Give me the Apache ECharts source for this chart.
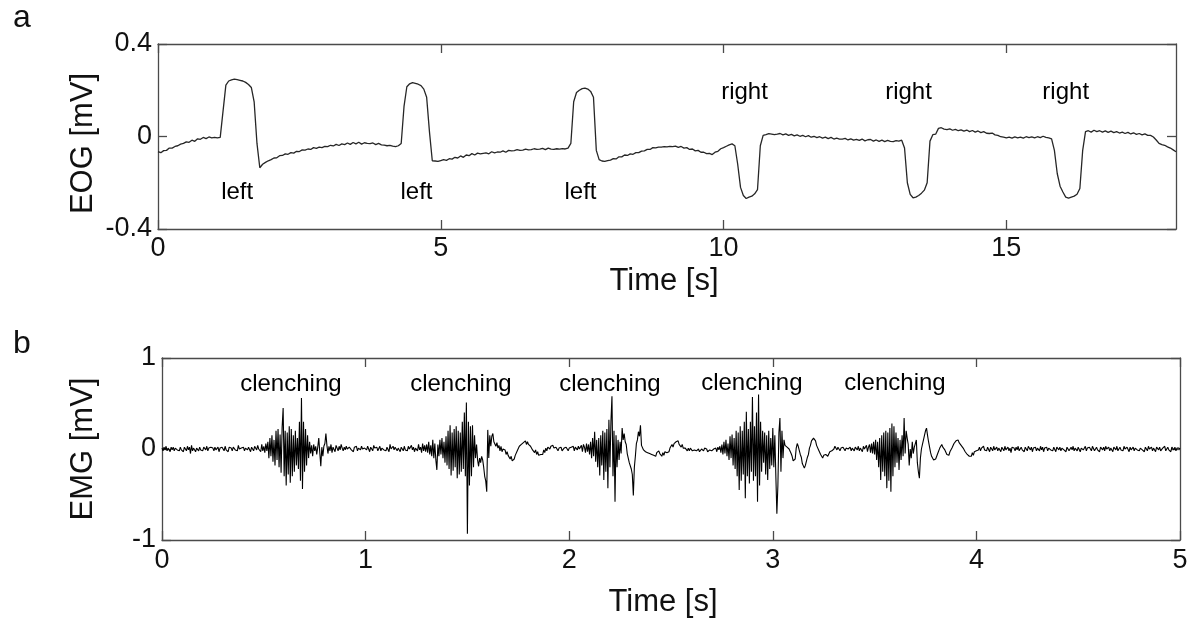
<!DOCTYPE html>
<html><head><meta charset="utf-8">
<script src="https://cdn.jsdelivr.net/npm/echarts@6/dist/echarts.min.js"></script>
<style>html,body{margin:0;padding:0;background:#fff}#c{width:1197px;height:623px}</style>
</head><body><div id="c"></div>
<script>
// ---------- DATA ----------
// EOG (panel a): one sample every 0.05 s from 0 to 18 s, values in mV
const eogStep = 0.05;
const eogValues = [
-0.065,-0.070,-0.061,-0.060,-0.050,-0.050,-0.043,-0.040,-0.033,-0.030,-0.023,-0.025,-0.016,-0.021,-0.010,-0.012,-0.004,-0.009,-0.002,-0.006,
-0.004,-0.006,-0.004,0.110,0.222,0.240,0.245,0.248,0.246,0.243,0.240,0.234,0.225,0.212,0.150,-0.030,-0.135,-0.120,-0.112,-0.105,
-0.100,-0.093,-0.092,-0.083,-0.082,-0.075,-0.077,-0.070,-0.072,-0.064,-0.065,-0.058,-0.059,-0.054,-0.056,-0.048,-0.051,-0.046,-0.048,-0.043,
-0.044,-0.038,-0.041,-0.034,-0.039,-0.032,-0.035,-0.028,-0.034,-0.026,-0.032,-0.025,-0.033,-0.027,-0.030,-0.031,-0.028,-0.035,-0.030,-0.036,
-0.037,-0.040,-0.038,-0.042,-0.044,-0.040,-0.030,0.130,0.215,0.228,0.233,0.230,0.226,0.220,0.205,0.170,0.020,-0.105,-0.106,-0.108,
-0.104,-0.100,-0.103,-0.096,-0.098,-0.090,-0.093,-0.084,-0.090,-0.080,-0.083,-0.074,-0.080,-0.072,-0.075,-0.073,-0.071,-0.075,-0.066,-0.071,
-0.067,-0.068,-0.062,-0.068,-0.060,-0.062,-0.061,-0.057,-0.060,-0.059,-0.055,-0.058,-0.057,-0.053,-0.056,-0.055,-0.051,-0.057,-0.050,-0.055,
-0.056,-0.053,-0.055,-0.052,-0.054,-0.050,-0.030,0.150,0.190,0.200,0.207,0.209,0.205,0.195,0.170,-0.060,-0.100,-0.106,-0.108,-0.104,
-0.102,-0.096,-0.097,-0.088,-0.088,-0.080,-0.082,-0.075,-0.077,-0.070,-0.070,-0.063,-0.062,-0.056,-0.056,-0.048,-0.049,-0.046,-0.046,-0.044,
-0.045,-0.043,-0.044,-0.042,-0.047,-0.043,-0.050,-0.048,-0.056,-0.054,-0.062,-0.060,-0.068,-0.068,-0.074,-0.073,-0.078,-0.068,-0.064,-0.053,
-0.048,-0.042,-0.036,-0.032,-0.040,-0.120,-0.220,-0.255,-0.268,-0.262,-0.258,-0.248,-0.230,-0.040,0.005,0.008,0.012,0.010,0.008,0.010,
0.013,0.007,0.011,0.005,0.009,0.003,0.007,0.001,0.005,-0.001,0.004,-0.003,0.001,-0.005,-0.001,-0.007,-0.003,-0.009,-0.004,-0.011,
-0.007,-0.011,-0.011,-0.008,-0.015,-0.010,-0.016,-0.012,-0.017,-0.011,-0.019,-0.014,-0.013,-0.020,-0.015,-0.021,-0.016,-0.022,-0.017,-0.021,
-0.022,-0.018,-0.020,-0.016,-0.050,-0.200,-0.250,-0.265,-0.262,-0.255,-0.245,-0.232,-0.200,-0.020,0.008,0.010,0.035,0.038,0.032,0.030,
0.033,0.027,0.031,0.025,0.029,0.023,0.028,0.021,0.026,0.019,0.024,0.017,0.021,0.014,0.013,0.015,0.007,0.005,-0.001,-0.003,
-0.006,-0.003,-0.007,-0.002,-0.006,-0.003,-0.007,-0.001,-0.005,-0.002,-0.006,-0.001,-0.005,0.001,-0.004,-0.006,-0.010,-0.060,-0.160,-0.215,
-0.240,-0.262,-0.266,-0.262,-0.258,-0.250,-0.225,-0.060,0.021,0.025,0.019,0.027,0.021,0.025,0.019,0.024,0.018,0.023,0.017,0.021,
0.015,0.019,0.013,0.018,0.011,0.016,0.009,0.013,0.007,0.011,0.005,0.005,-0.002,-0.015,-0.030,-0.035,-0.038,-0.045,-0.050,-0.058,
-0.066
];

// EMG (panel b): one sample every 0.005 s from 0 to 5 s, values in mV
const emgStep = 0.005;
const emgValues = [
0.01,-0.02,0.02,-0.01,0.03,-0.02,0.01,0.00,-0.03,0.02,-0.01,0.02,-0.02,0.01,0.03,-0.01,0.00,-0.02,0.02,-0.01,
0.01,-0.03,0.02,0.00,-0.02,0.03,-0.01,0.02,-0.05,0.04,-0.02,0.01,0.02,-0.03,0.01,0.00,-0.02,0.02,-0.01,0.01,
-0.02,0.02,0.00,-0.01,0.03,-0.02,0.01,-0.01,0.02,0.04,0.01,-0.02,0.02,-0.01,0.00,0.02,-0.03,0.01,-0.01,0.02,
0.00,-0.02,0.03,-0.01,0.01,-0.03,0.02,0.00,0.01,-0.02,0.02,0.03,-0.01,0.01,-0.02,0.04,0.00,-0.02,0.01,-0.01,
0.02,-0.02,0.01,0.03,-0.01,0.02,0.00,-0.03,0.02,0.01,-0.02,0.03,0.01,-0.01,0.04,0.00,0.02,-0.03,0.05,-0.02,
0.03,-0.04,0.06,-0.02,0.08,-0.10,0.12,-0.08,0.15,-0.14,0.10,-0.18,0.20,-0.12,0.22,-0.20,0.16,-0.26,0.24,0.45,
-0.30,0.20,-0.40,0.18,-0.28,0.25,-0.37,0.22,-0.30,0.15,-0.25,0.20,-0.18,0.12,-0.22,0.30,-0.35,0.56,-0.44,0.30,
-0.25,0.22,-0.18,0.15,-0.10,0.08,-0.05,0.04,-0.08,0.05,-0.02,0.03,-0.06,0.02,0.12,-0.04,-0.19,0.02,-0.08,0.03,
0.06,0.17,0.04,-0.05,0.03,-0.02,0.05,-0.04,0.02,0.00,-0.03,0.04,0.02,-0.02,0.03,-0.01,0.05,0.01,-0.02,0.02,
-0.01,0.03,0.00,-0.02,0.02,0.04,-0.01,0.01,-0.03,0.02,0.00,0.03,-0.02,0.01,0.02,-0.01,0.03,0.00,-0.02,0.01,
0.02,-0.01,0.03,0.00,-0.03,0.02,0.01,-0.02,0.04,0.01,-0.01,0.02,-0.02,0.00,0.03,-0.02,0.01,0.02,-0.01,0.00,
-0.02,0.02,0.01,-0.03,0.05,0.00,-0.02,0.03,-0.01,0.02,0.04,-0.02,0.01,0.00,-0.03,0.02,0.01,-0.02,0.03,-0.01,
0.01,-0.02,0.03,0.00,-0.02,0.04,-0.01,0.02,-0.03,0.01,0.03,-0.02,0.05,-0.01,0.02,-0.04,0.06,-0.02,0.04,-0.03,
0.05,-0.04,0.08,-0.06,0.04,-0.08,0.10,-0.10,0.06,-0.12,-0.23,0.05,-0.08,0.10,-0.06,0.12,-0.10,0.08,-0.15,0.14,
-0.18,0.20,-0.22,0.26,-0.29,0.18,-0.24,0.22,-0.20,0.25,-0.32,0.20,-0.28,0.18,-0.25,0.30,-0.22,0.40,-0.30,0.51,
-0.93,0.30,-0.40,0.25,-0.30,0.26,-0.20,0.15,-0.10,0.05,-0.12,-0.19,-0.10,-0.15,-0.08,-0.12,-0.20,-0.30,-0.35,-0.47,
0.21,-0.10,0.15,0.03,0.14,0.17,0.08,0.10,0.03,0.07,0.01,0.04,-0.02,0.03,-0.03,0.00,-0.02,-0.01,-0.06,-0.03,
-0.07,-0.06,-0.11,-0.08,-0.13,-0.12,-0.11,-0.07,-0.07,-0.02,-0.04,0.03,0.02,0.05,0.03,0.07,0.05,0.09,0.05,0.08,
0.05,0.06,0.03,0.04,-0.01,0.01,-0.04,-0.01,-0.06,-0.03,-0.07,-0.05,-0.06,-0.04,-0.06,-0.01,-0.04,0.01,-0.02,0.02,
0.02,0.00,0.03,0.02,0.04,0.01,0.03,0.02,0.00,-0.02,0.01,-0.01,0.02,-0.02,0.00,0.01,-0.01,0.02,0.00,-0.02,
0.01,-0.01,0.02,0.00,0.03,-0.02,0.02,0.04,-0.01,0.03,0.00,-0.02,0.04,-0.03,0.05,0.02,-0.04,0.06,-0.03,0.05,
-0.06,0.08,-0.10,0.12,-0.08,0.19,-0.14,0.10,-0.20,0.12,-0.29,0.15,-0.18,0.20,-0.34,0.18,-0.25,0.22,-0.43,0.32,
-0.20,0.30,0.58,-0.30,0.20,-0.58,0.15,-0.20,0.10,-0.12,0.08,-0.05,0.23,0.10,0.17,0.08,0.05,-0.05,-0.10,-0.15,
-0.15,-0.22,-0.28,-0.51,-0.20,-0.08,0.06,0.10,0.19,0.14,0.26,0.04,0.03,-0.01,0.00,-0.03,-0.01,-0.04,-0.02,-0.05,
-0.04,-0.06,-0.04,-0.07,-0.05,-0.08,-0.04,-0.06,-0.02,-0.05,-0.05,-0.08,-0.04,-0.07,-0.03,-0.05,-0.04,-0.02,-0.03,0.01,
0.01,0.05,0.02,0.06,0.06,0.08,0.07,0.09,0.05,0.06,0.02,0.05,0.01,0.03,0.01,0.02,-0.02,0.01,-0.02,0.01,
-0.01,-0.02,0.00,-0.01,0.01,-0.02,-0.01,0.00,-0.03,-0.02,0.00,-0.01,-0.02,0.01,-0.01,0.00,-0.03,-0.02,-0.01,0.00,
-0.02,-0.03,0.00,-0.02,0.01,-0.03,0.02,-0.01,0.03,-0.04,0.05,-0.06,0.08,-0.05,0.10,-0.08,0.06,-0.12,0.14,-0.10,
0.16,-0.18,0.12,-0.22,0.20,-0.30,0.18,-0.45,0.25,-0.35,0.20,-0.28,0.30,-0.54,0.41,-0.30,0.22,-0.38,0.30,-0.25,
0.57,-0.35,0.25,-0.30,0.40,-0.58,0.60,-0.40,0.30,-0.25,0.20,-0.15,0.18,-0.28,0.15,-0.34,0.20,-0.22,0.12,-0.18,
0.23,-0.20,0.15,-0.30,-0.71,-0.40,0.18,0.34,-0.25,0.20,-0.10,0.10,0.04,0.06,0.02,0.04,0.00,-0.02,-0.05,-0.08,
-0.13,-0.12,-0.11,0.01,0.06,0.03,0.01,-0.06,-0.09,-0.16,-0.17,-0.21,-0.18,-0.16,-0.09,-0.06,0.01,0.04,0.09,0.09,
0.12,0.10,0.09,0.04,0.03,-0.01,-0.02,-0.06,-0.06,-0.10,-0.07,-0.07,-0.06,-0.06,-0.08,-0.07,-0.03,-0.03,-0.02,-0.02,
0.00,0.03,0.01,-0.01,0.02,0.00,-0.02,0.01,-0.01,0.02,0.00,-0.02,0.01,0.03,0.00,-0.01,0.02,-0.02,0.01,0.00,
-0.02,0.02,0.01,-0.01,0.03,-0.02,0.01,0.02,-0.03,0.03,0.00,-0.02,0.04,-0.03,0.02,0.05,-0.04,0.06,-0.05,0.08,
-0.06,0.10,-0.12,0.08,-0.20,0.12,-0.34,0.15,-0.25,0.18,-0.30,0.20,-0.43,0.18,-0.35,0.23,-0.47,0.28,-0.30,0.25,
-0.20,0.18,-0.15,0.12,-0.23,0.10,-0.12,0.15,-0.08,0.34,-0.05,0.20,0.12,0.05,-0.18,0.00,-0.10,0.08,-0.05,0.02,
0.06,0.10,-0.15,-0.25,-0.32,-0.10,0.00,0.05,0.10,0.15,0.20,0.23,0.15,0.08,0.02,-0.04,-0.08,-0.10,-0.12,-0.11,
-0.11,-0.11,-0.05,-0.03,0.01,0.01,0.05,0.02,0.03,-0.01,-0.02,-0.06,-0.06,-0.07,-0.03,-0.03,0.01,0.02,0.06,0.06,
0.09,0.09,0.10,0.07,0.08,0.04,0.04,0.01,0.01,-0.03,-0.03,-0.06,-0.05,-0.08,-0.07,-0.08,-0.04,-0.07,-0.03,-0.04,
-0.02,0.00,-0.01,0.02,-0.02,0.01,0.00,0.03,-0.01,0.01,-0.02,0.02,0.00,-0.03,0.02,0.01,-0.02,0.03,-0.01,0.00,
0.02,-0.02,0.01,0.00,-0.03,0.02,0.01,-0.02,0.03,-0.01,0.00,0.02,-0.02,0.01,-0.04,0.02,0.00,0.01,-0.02,0.02,
-0.01,0.03,-0.02,0.00,0.02,-0.01,0.01,-0.03,0.02,0.00,-0.02,0.03,0.01,-0.01,0.02,-0.03,0.01,0.00,0.02,-0.02,
0.01,0.00,-0.02,0.03,-0.01,0.02,-0.03,0.01,0.00,0.02,-0.02,0.01,0.03,-0.01,0.00,-0.02,0.02,0.01,-0.03,0.02,
0.00,-0.01,0.02,-0.02,0.01,0.03,-0.01,0.00,-0.03,0.02,0.01,-0.02,0.00,0.02,-0.01,0.03,-0.02,0.01,0.00,-0.02,
0.02,0.00,-0.03,0.01,0.02,-0.01,0.00,0.03,-0.02,0.01,-0.01,0.02,0.00,-0.02,0.03,0.01,-0.02,0.00,0.02,-0.01,
0.01,-0.03,0.02,0.00,-0.01,0.02,-0.02,0.03,0.00,-0.01,0.02,-0.02,0.01,0.00,-0.03,0.02,0.01,-0.01,0.03,-0.02,
0.00,0.02,-0.01,0.01,-0.02,0.03,0.00,-0.02,0.02,0.01,-0.03,0.02,-0.01,0.00,0.02,-0.02,0.01,0.03,-0.01,0.00,
-0.02,0.01,0.02,-0.01,0.00,-0.03,0.02,0.01,-0.02,0.03,0.00,-0.01,0.02,-0.02,0.01,0.00,-0.03,0.02,0.01,-0.01,
0.02,-0.02,0.00,0.01,-0.01,0.03,-0.02,0.00,0.02,-0.01,0.01,-0.03,0.02,0.00,-0.01,0.02,-0.02,0.01,0.00,0.01,
0.00
];

// Tick values
const eogXTicks = [0, 5, 10, 15];
const eogYTicks = [-0.4, 0, 0.4];
const emgXTicks = [0, 1, 2, 3, 4, 5];
const emgYTicks = [-1, 0, 1];

// Annotations: [time, value, text]
const eogNotes = [[1.40,-0.24,'left'],[4.57,-0.24,'left'],[7.47,-0.24,'left'],
                  [10.37,0.19,'right'],[13.27,0.19,'right'],[16.05,0.19,'right']];
const emgNotes = [[0.633,0.71,'clenching'],[1.468,0.71,'clenching'],[2.20,0.71,'clenching'],
                  [2.897,0.725,'clenching'],[3.60,0.725,'clenching']];

// ---------- CHART ----------
const FONT = 'Liberation Sans, Arial, Helvetica, sans-serif';
const TXT = '#111';
const AX = '#4a4a4a';

const eogData = eogValues.map((v, i) => [+(i * eogStep).toFixed(3), v]);
const emgData = emgValues.map((v, i) => [+(i * emgStep).toFixed(4), v]);

function baseAxis(extra) {
  return Object.assign({
    axisLine: { show: true, onZero: false, lineStyle: { color: AX, width: 1.3 } },
    splitLine: { show: false },
    nameMoveOverlap: false
  }, extra);
}
function tick(vals) {
  return { inside: true, length: 9, lineStyle: { color: AX, width: 1.3 }, customValues: vals };
}
const labelStyle = { fontSize: 27, color: TXT, fontFamily: FONT };
const noteLabel = { show: true, position: 'inside', formatter: p => p.data[2],
  fontSize: 24, color: '#000', fontFamily: FONT, textBorderWidth: 0, opacity: 1 };

const chart = echarts.init(document.getElementById('c'), null, { renderer: 'canvas' });
chart.setOption({
  animation: false,
  backgroundColor: '#fff',
  grid: [
    { left: 158, top: 44, width: 1018, height: 185 },
    { left: 162, top: 358, width: 1018, height: 182 }
  ],
  xAxis: [
    baseAxis({ type: 'value', gridIndex: 0, min: 0, max: 18, interval: 5, position: 'bottom',
      name: 'Time [s]', nameLocation: 'middle', nameGap: 37,
      nameTextStyle: { fontSize: 31, color: TXT, fontFamily: FONT, padding: [0, 6, 0, 0] },
      axisTick: tick(eogXTicks),
      axisLabel: Object.assign({ margin: 6, customValues: eogXTicks }, labelStyle) }),
    baseAxis({ type: 'value', gridIndex: 0, min: 0, max: 18, interval: 5, position: 'top',
      axisTick: tick(eogXTicks), axisLabel: { show: false } }),
    baseAxis({ type: 'value', gridIndex: 1, min: 0, max: 5, interval: 1, position: 'bottom',
      name: 'Time [s]', nameLocation: 'middle', nameGap: 47,
      nameTextStyle: { fontSize: 31, color: TXT, fontFamily: FONT, padding: [0, 16, 0, 0] },
      axisTick: tick(emgXTicks),
      axisLabel: Object.assign({ margin: 7, customValues: emgXTicks }, labelStyle) }),
    baseAxis({ type: 'value', gridIndex: 1, min: 0, max: 5, interval: 1, position: 'top',
      axisTick: tick(emgXTicks), axisLabel: { show: false } })
  ],
  yAxis: [
    baseAxis({ type: 'value', gridIndex: 0, min: -0.4, max: 0.4, interval: 0.4, position: 'left',
      name: 'EOG [mV]', nameLocation: 'middle', nameGap: 59,
      nameTextStyle: { fontSize: 31, color: TXT, fontFamily: FONT, padding: [0, 14, 0, 0] },
      axisTick: tick(eogYTicks),
      axisLabel: Object.assign({ margin: 6, customValues: eogYTicks }, labelStyle) }),
    baseAxis({ type: 'value', gridIndex: 0, min: -0.4, max: 0.4, interval: 0.4, position: 'right',
      axisTick: tick(eogYTicks), axisLabel: { show: false } }),
    baseAxis({ type: 'value', gridIndex: 1, min: -1, max: 1, interval: 1, position: 'left',
      name: 'EMG [mV]', nameLocation: 'middle', nameGap: 63,
      nameTextStyle: { fontSize: 31, color: TXT, fontFamily: FONT },
      axisTick: tick(emgYTicks),
      axisLabel: Object.assign({ margin: 6, customValues: emgYTicks }, labelStyle) }),
    baseAxis({ type: 'value', gridIndex: 1, min: -1, max: 1, interval: 1, position: 'right',
      axisTick: tick(emgYTicks), axisLabel: { show: false } })
  ],
  series: [
    { name: 'EOG', type: 'line', xAxisIndex: 0, yAxisIndex: 0, data: eogData,
      showSymbol: false, symbol: 'none', silent: true,
      lineStyle: { color: '#262626', width: 1.3 } },
    { name: 'EMG', type: 'line', xAxisIndex: 2, yAxisIndex: 2, data: emgData,
      showSymbol: false, symbol: 'none', silent: true,
      lineStyle: { color: '#000', width: 1.1 } },
    { name: 'EOG notes', type: 'scatter', xAxisIndex: 0, yAxisIndex: 0, data: eogNotes,
      symbolSize: 0, silent: true, itemStyle: { color: '#000', opacity: 1 }, label: noteLabel },
    { name: 'EMG notes', type: 'scatter', xAxisIndex: 2, yAxisIndex: 2, data: emgNotes,
      symbolSize: 0, silent: true, itemStyle: { color: '#000', opacity: 1 }, label: noteLabel }
  ],
  graphic: [
    { type: 'text', x: 22, y: 18, style: { text: 'a', font: '32px ' + FONT, fill: TXT, align: 'center', verticalAlign: 'middle' } },
    { type: 'text', x: 22, y: 344, style: { text: 'b', font: '32px ' + FONT, fill: TXT, align: 'center', verticalAlign: 'middle' } }
  ]
});
</script>
</body></html>
